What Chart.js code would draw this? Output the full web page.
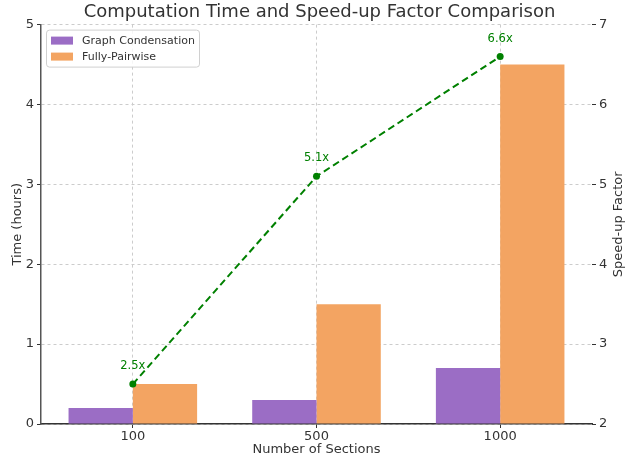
<!DOCTYPE html>
<html>
<head>
<meta charset="utf-8">
<script src="https://cdn.jsdelivr.net/npm/chart.js@4/dist/chart.umd.min.js"></script>
<style>
  html, body { margin: 0; padding: 0; background: #fff; }
  #wrap { width: 629px; height: 459px; }
</style>
</head>
<body>
<div id="wrap"><canvas id="c" width="629" height="459"></canvas></div>
<script>
const sections = ['100', '500', '1000'];
const graphCondensation = [0.2, 0.3, 0.7];
const fullyPairwise = [0.5, 1.5, 4.5];
const speedup = [2.5, 5.1, 6.6];
const timeTicks = [0, 1, 2, 3, 4, 5];
const speedTicks = [2, 3, 4, 5, 6, 7];

const FONT = "'DejaVu Sans', sans-serif";
const PURPLE = '#9b6dc5';
const ORANGE = '#f3a462';
const GREEN = '#008000';
const TEXT = '#333';

// text labels above the speed-up points
const pointLabels = {
    id: 'pointLabels',
    afterDatasetsDraw(chart) {
        const meta = chart.getDatasetMeta(2);
        const ctx = chart.ctx;
        ctx.save();
        ctx.font = `11.5px ${FONT}`;
        ctx.fillStyle = GREEN;
        ctx.textAlign = 'center';
        ctx.textBaseline = 'middle';
        meta.data.forEach((pt, i) => {
            ctx.fillText(`${speedup[i]}x`, pt.x, pt.y - 18);
        });
        ctx.restore();
    }
};

// legend box in the upper left of the plot + right axis title
const extras = {
    id: 'extras',
    afterDraw(chart) {
        const ctx = chart.ctx;
        const a = chart.chartArea;
        const x = a.left + 5, y = a.top + 5;
        const items = [['Graph Condensation', PURPLE], ['Fully-Pairwise', ORANGE]];
        ctx.save();
        ctx.fillStyle = 'rgba(255,255,255,0.8)';
        ctx.strokeStyle = '#d0d0d0';
        ctx.lineWidth = 1;
        ctx.beginPath();
        ctx.roundRect(x + 0.5, y + 0.5, 153, 37, 3);
        ctx.fill();
        ctx.stroke();
        ctx.font = `11px ${FONT}`;
        ctx.textBaseline = 'middle';
        items.forEach(([label, color], i) => {
            const cy = y + 11 + i * 16;
            ctx.fillStyle = color;
            ctx.fillRect(x + 5, cy - 4, 22, 8);
            ctx.fillStyle = TEXT;
            ctx.fillText(label, x + 36, cy + 1);
        });

        ctx.translate(619, (a.top + a.bottom) / 2);
        ctx.rotate(-Math.PI / 2);
        ctx.font = `13px ${FONT}`;
        ctx.textAlign = 'center';
        ctx.textBaseline = 'middle';
        ctx.fillText('Speed-up Factor', 0, 0);
        ctx.restore();
    }
};

new Chart(document.getElementById('c'), {
    data: {
        labels: sections,
        datasets: [
            {
                type: 'bar',
                label: 'Graph Condensation',
                data: graphCondensation,
                backgroundColor: PURPLE,
                yAxisID: 'y',
                categoryPercentage: 0.7,
                barPercentage: 1.0,
                order: 2
            },
            {
                type: 'bar',
                label: 'Fully-Pairwise',
                data: fullyPairwise,
                backgroundColor: ORANGE,
                yAxisID: 'y',
                categoryPercentage: 0.7,
                barPercentage: 1.0,
                order: 2
            },
            {
                type: 'line',
                label: 'Speed-up Factor',
                data: speedup,
                borderColor: GREEN,
                backgroundColor: GREEN,
                borderWidth: 2,
                borderDash: [7, 4],
                pointRadius: 3.5,
                pointBackgroundColor: GREEN,
                pointBorderWidth: 0,
                tension: 0,
                yAxisID: 'y1',
                order: 1
            }
        ]
    },
    options: {
        responsive: false,
        animation: false,
        devicePixelRatio: 1,
        layout: { padding: { top: 0, right: 0, left: 10, bottom: 2 } },
        plugins: {
            legend: { display: false },
            tooltip: { enabled: false },
            title: {
                display: true,
                text: 'Computation Time and Speed-up Factor Comparison',
                color: TEXT,
                font: { family: FONT, size: 18, weight: 'normal' },
                padding: { top: 2, bottom: 1 }
            }
        },
        scales: {
            x: {
                offset: true,
                grid: { color: '#cccccc', offset: false, tickLength: 4, tickColor: TEXT },
                border: { display: true, color: TEXT, width: 1.5, dash: [3, 3] },
                ticks: { color: TEXT, font: { family: FONT, size: 13 }, padding: 1 },
                title: {
                    display: true,
                    text: 'Number of Sections',
                    color: TEXT,
                    font: { family: FONT, size: 13 },
                    padding: { top: 0, bottom: 0 }
                },
                afterFit: (s) => { s.height = 33; }
            },
            y: {
                position: 'left',
                min: 0,
                max: 5,
                afterBuildTicks: (s) => { s.ticks = timeTicks.map(v => ({ value: v })); },
                grid: { color: '#cccccc', tickLength: 4, tickColor: TEXT },
                border: { display: true, color: '#555', width: 1.5, dash: [3, 3] },
                ticks: { color: TEXT, font: { family: FONT, size: 13 }, padding: 3 },
                title: {
                    display: true,
                    text: 'Time (hours)',
                    color: TEXT,
                    font: { family: FONT, size: 13 },
                    padding: { top: 0, bottom: 2 }
                },
                afterFit: (s) => { s.width = 31; }
            },
            y1: {
                position: 'right',
                min: 2,
                max: 7,
                afterBuildTicks: (s) => { s.ticks = speedTicks.map(v => ({ value: v })); },
                grid: { drawOnChartArea: false, tickLength: 4, tickColor: TEXT },
                border: { display: false },
                ticks: { color: TEXT, font: { family: FONT, size: 13 }, padding: 3 },
                afterFit: (s) => { s.width = 37; }
            }
        }
    },
    plugins: [pointLabels, extras]
});
</script>
</body>
</html>
